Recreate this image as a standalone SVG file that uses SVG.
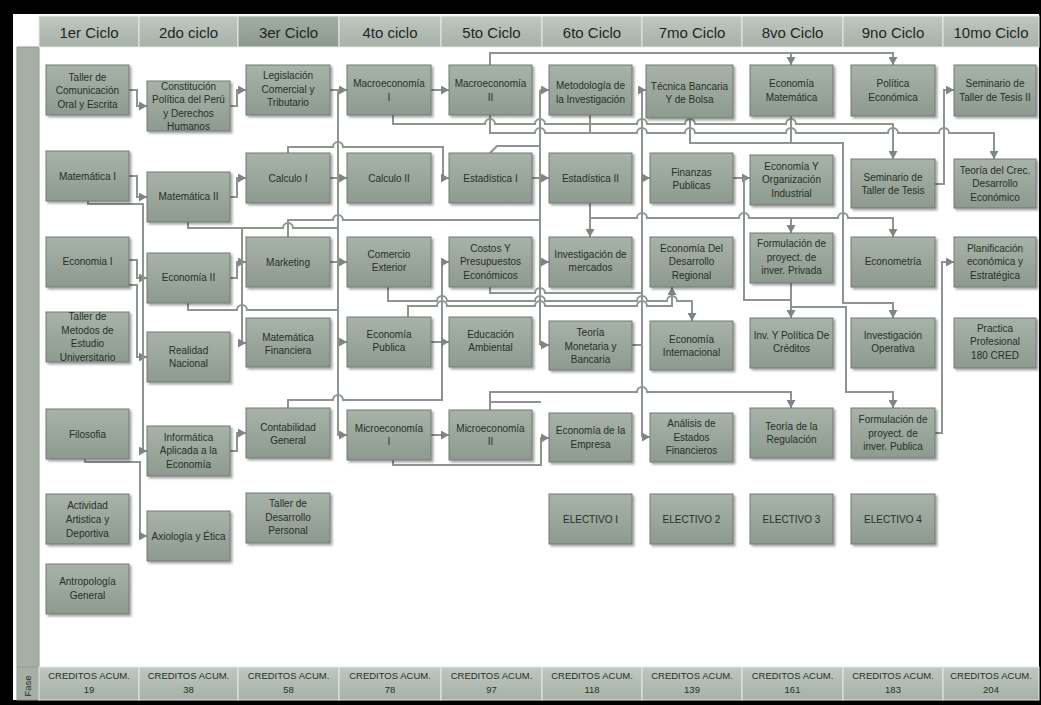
<svg xmlns="http://www.w3.org/2000/svg" width="1041" height="705" viewBox="0 0 1041 705">
<defs>
<linearGradient id="bg" x1="0" y1="0" x2="0" y2="1"><stop offset="0" stop-color="#a8b2a9"/><stop offset="1" stop-color="#8e9990"/></linearGradient>
<linearGradient id="hg" x1="0" y1="0" x2="0" y2="1"><stop offset="0" stop-color="#bfc7c0"/><stop offset="1" stop-color="#a7b1a8"/></linearGradient>
<linearGradient id="hd" x1="0" y1="0" x2="0" y2="1"><stop offset="0" stop-color="#a2ada4"/><stop offset="1" stop-color="#8c978e"/></linearGradient>
<filter id="sh" x="-10%" y="-10%" width="130%" height="130%"><feDropShadow dx="2" dy="2" stdDeviation="1" flood-color="#000" flood-opacity="0.35"/></filter>
<marker id="a" markerWidth="9" markerHeight="9" refX="8" refY="4.5" orient="auto" markerUnits="userSpaceOnUse"><path d="M0,0L8,4.5L0,9z" fill="#7d8680"/></marker>
<style>
.box{fill:url(#bg);stroke:#6f7a72;stroke-width:1;filter:url(#sh)}
.t{font-family:"Liberation Sans",Arial,sans-serif;font-size:10px;fill:#263028;text-anchor:middle}
.c path{fill:none;stroke:#8d958f;stroke-width:2}
.hc{fill:url(#hg);stroke:#e6eae6;stroke-width:1}
.hdk{fill:url(#hd);stroke:#e6eae6;stroke-width:1}
.ht{font-family:"Liberation Sans",Arial,sans-serif;font-size:15px;fill:#1f2621;text-anchor:middle}
.ft{font-family:"Liberation Sans",Arial,sans-serif;font-size:9.5px;fill:#263028;text-anchor:middle}
</style>
</defs>
<rect x="0" y="0" width="1041" height="705" fill="#ffffff"/>
<g id="frame">
<rect x="0" y="0" width="1041" height="14" fill="#000"/>
<rect x="0" y="0" width="13" height="705" fill="#000"/>
<rect x="0" y="700" width="1041" height="5" fill="#000"/>
<rect x="1039" y="0" width="2" height="705" fill="#000"/>
</g>
<g id="strip">
<rect x="17" y="47" width="22" height="653" fill="#a5afa6" stroke="#8f9991"/>
<line x1="17" y1="667" x2="39" y2="667" stroke="#8f9991"/>
<text class="ft" transform="translate(31,686) rotate(-90)">Fase</text>
</g>
<g id="header">
<rect class="hc" x="39" y="16" width="100" height="31"/><text class="ht" x="89" y="37.5">1er Ciclo</text>
<rect class="hc" x="139" y="16" width="99" height="31"/><text class="ht" x="188.5" y="37.5">2do ciclo</text>
<rect class="hdk" x="238" y="16" width="101" height="31"/><text class="ht" x="288.5" y="37.5">3er Ciclo</text>
<rect class="hc" x="339" y="16" width="102" height="31"/><text class="ht" x="390" y="37.5">4to ciclo</text>
<rect class="hc" x="441" y="16" width="101" height="31"/><text class="ht" x="491.5" y="37.5">5to Ciclo</text>
<rect class="hc" x="542" y="16" width="100" height="31"/><text class="ht" x="592" y="37.5">6to Ciclo</text>
<rect class="hc" x="642" y="16" width="100" height="31"/><text class="ht" x="692" y="37.5">7mo Ciclo</text>
<rect class="hc" x="742" y="16" width="101" height="31"/><text class="ht" x="792.5" y="37.5">8vo Ciclo</text>
<rect class="hc" x="843" y="16" width="100" height="31"/><text class="ht" x="893" y="37.5">9no Ciclo</text>
<rect class="hc" x="943" y="16" width="96" height="31"/><text class="ht" x="991" y="37.5">10mo Ciclo</text>
</g>
<g id="footer">
<rect class="hc" x="39" y="667" width="100" height="33"/><text class="ft" x="89" y="679">CREDITOS ACUM.</text><text class="ft" x="89" y="692.5">19</text>
<rect class="hc" x="139" y="667" width="99" height="33"/><text class="ft" x="188.5" y="679">CREDITOS ACUM.</text><text class="ft" x="188.5" y="692.5">38</text>
<rect class="hc" x="238" y="667" width="101" height="33"/><text class="ft" x="288.5" y="679">CREDITOS ACUM.</text><text class="ft" x="288.5" y="692.5">58</text>
<rect class="hc" x="339" y="667" width="102" height="33"/><text class="ft" x="390" y="679">CREDITOS ACUM.</text><text class="ft" x="390" y="692.5">78</text>
<rect class="hc" x="441" y="667" width="101" height="33"/><text class="ft" x="491.5" y="679">CREDITOS ACUM.</text><text class="ft" x="491.5" y="692.5">97</text>
<rect class="hc" x="542" y="667" width="100" height="33"/><text class="ft" x="592" y="679">CREDITOS ACUM.</text><text class="ft" x="592" y="692.5">118</text>
<rect class="hc" x="642" y="667" width="100" height="33"/><text class="ft" x="692" y="679">CREDITOS ACUM.</text><text class="ft" x="692" y="692.5">139</text>
<rect class="hc" x="742" y="667" width="101" height="33"/><text class="ft" x="792.5" y="679">CREDITOS ACUM.</text><text class="ft" x="792.5" y="692.5">161</text>
<rect class="hc" x="843" y="667" width="100" height="33"/><text class="ft" x="893" y="679">CREDITOS ACUM.</text><text class="ft" x="893" y="692.5">183</text>
<rect class="hc" x="943" y="667" width="96" height="33"/><text class="ft" x="991" y="679">CREDITOS ACUM.</text><text class="ft" x="991" y="692.5">204</text>
</g>
<g id="connectors" class="c">
<path d="M129,90H137V106H147" marker-end="url(#a)"/>
<path d="M230,106H237V90H246" marker-end="url(#a)"/>
<path d="M129,176H137V197H147" marker-end="url(#a)"/>
<path d="M230,197H237V178H246" marker-end="url(#a)"/>
<path d="M129,260H137V278H147" marker-end="url(#a)"/>
<path d="M230,278H237V262H246" marker-end="url(#a)"/>
<path d="M129,285H137V357H147" marker-end="url(#a)"/>
<path d="M88,201V204H143V451H147" marker-end="url(#a)"/>
<path d="M85,459V462H140V536H147" marker-end="url(#a)"/>
<path d="M230,451H237V433H246" marker-end="url(#a)"/>
<path d="M330,90H347" marker-end="url(#a)"/>
<path d="M338,90V435H347" marker-end="url(#a)"/>
<path d="M338,342H347" marker-end="url(#a)"/>
<path d="M188,222V228H283A5,5 0 0 1 293,228H338"/>
<path d="M242,228V343H246" marker-end="url(#a)"/>
<path d="M188,303V310H237A5,5 0 0 1 247,310H338"/>
<path d="M288,153V147H333A5,5 0 0 1 343,147H443V178H449" marker-end="url(#a)"/>
<path d="M330,178H347" marker-end="url(#a)"/>
<path d="M431,90H449" marker-end="url(#a)"/>
<path d="M330,262H347" marker-end="url(#a)"/>
<path d="M288,237V220H333A5,5 0 0 1 343,220H540"/>
<path d="M288,408V400H333A5,5 0 0 1 343,400H442V262H449" marker-end="url(#a)"/>
<path d="M431,342H449" marker-end="url(#a)"/>
<path d="M431,435H449" marker-end="url(#a)"/>
<path d="M393,460V465H541V438H549" marker-end="url(#a)"/>
<path d="M490,410V402H541"/>
<path d="M490,410V392H637A5,5 0 0 1 647,392H791V408" marker-end="url(#a)"/>
<path d="M393,115V124H485A5,5 0 0 1 495,124H535A5,5 0 0 1 545,124H637A5,5 0 0 1 647,124H685A5,5 0 0 1 695,124H786A5,5 0 0 1 796,124H893V159" marker-end="url(#a)"/>
<path d="M490,115V133H535A5,5 0 0 1 545,133H637A5,5 0 0 1 647,133H685A5,5 0 0 1 695,133H786A5,5 0 0 1 796,133H888A5,5 0 0 1 898,133H939A5,5 0 0 1 949,133H994V159" marker-end="url(#a)"/>
<path d="M590,115V133"/>
<path d="M490,65V53H893V65" marker-end="url(#a)"/>
<path d="M791,53V65" marker-end="url(#a)"/>
<path d="M490,153L497,146H540"/>
<path d="M540,90V345"/>
<path d="M540,90H549" marker-end="url(#a)"/>
<path d="M540,262H549" marker-end="url(#a)"/>
<path d="M540,345H549" marker-end="url(#a)"/>
<path d="M642,90V437"/>
<path d="M642,90H646" marker-end="url(#a)"/>
<path d="M642,178H650" marker-end="url(#a)"/>
<path d="M642,437H650" marker-end="url(#a)"/>
<path d="M490,287V293H535A5,5 0 0 1 545,293H642"/>
<path d="M388,287V301H437A5,5 0 0 1 447,301H535A5,5 0 0 1 545,301H637A5,5 0 0 1 647,301H667A5,5 0 0 1 677,301H692V321" marker-end="url(#a)"/>
<path d="M408,317V306H437A5,5 0 0 1 447,306H535A5,5 0 0 1 545,306H637A5,5 0 0 1 647,306H672V287" marker-end="url(#a)"/>
<path d="M632,345H642"/>
<path d="M590,203V237" marker-end="url(#a)"/>
<path d="M590,218H637A5,5 0 0 1 647,218H739A5,5 0 0 1 749,218H791V233" marker-end="url(#a)"/>
<path d="M791,218H838A5,5 0 0 1 848,218H893V237" marker-end="url(#a)"/>
<path d="M690,118V143H791"/>
<path d="M791,116V143H843V303H893V318" marker-end="url(#a)"/>
<path d="M733,178H750" marker-end="url(#a)"/>
<path d="M744,178V300H791"/>
<path d="M791,283V318" marker-end="url(#a)"/>
<path d="M791,307H846V392H893V408" marker-end="url(#a)"/>
<path d="M935,184H944V90H954" marker-end="url(#a)"/>
<path d="M935,433H942V262H954" marker-end="url(#a)"/>
<path d="M532,178H549" marker-end="url(#a)"/>
</g>
<g id="n_taller_com"><rect class="box" x="46" y="65" width="83" height="50"/><text class="t"><tspan x="87.5" y="80.5">Taller de</tspan><tspan x="87.5" y="94">Comunicación</tspan><tspan x="87.5" y="107.5">Oral y Escrita</tspan></text></g>
<g id="n_mat1"><rect class="box" x="46" y="151" width="83" height="50"/><text class="t" x="87.5" y="179.7">Matemática I</text></g>
<g id="n_eco1"><rect class="box" x="46" y="237" width="83" height="50"/><text class="t" x="87.5" y="265">Economia I</text></g>
<g id="n_metodos"><rect class="box" x="46" y="312" width="83" height="50"/><text class="t"><tspan x="87.5" y="319.7">Taller de</tspan><tspan x="87.5" y="333.5">Metodos de</tspan><tspan x="87.5" y="347">Estudio</tspan><tspan x="87.5" y="360.7">Universitario</tspan></text></g>
<g id="n_filosofia"><rect class="box" x="46" y="409" width="83" height="50"/><text class="t" x="87.5" y="437.5">Filosofia</text></g>
<g id="n_actividad"><rect class="box" x="46" y="494" width="83" height="50"/><text class="t"><tspan x="87.5" y="509.4">Actividad</tspan><tspan x="87.5" y="522.7">Artistica y</tspan><tspan x="87.5" y="536.5">Deportiva</tspan></text></g>
<g id="n_antropologia"><rect class="box" x="46" y="564" width="83" height="50"/><text class="t"><tspan x="87.5" y="585">Antropología</tspan><tspan x="87.5" y="598.5">General</tspan></text></g>
<g id="n_constitucion"><rect class="box" x="147" y="81" width="83" height="50"/><text class="t"><tspan x="188.5" y="89.5">Constitución</tspan><tspan x="188.5" y="103">Política del Perú</tspan><tspan x="188.5" y="116.5">y Derechos</tspan><tspan x="188.5" y="130">Humanos</tspan></text></g>
<g id="n_mat2"><rect class="box" x="147" y="172" width="83" height="50"/><text class="t" x="188.5" y="200">Matemática II</text></g>
<g id="n_eco2"><rect class="box" x="147" y="253" width="83" height="50"/><text class="t" x="188.5" y="281">Economía II</text></g>
<g id="n_realidad"><rect class="box" x="147" y="332" width="83" height="50"/><text class="t"><tspan x="188.5" y="353.7">Realidad</tspan><tspan x="188.5" y="367">Nacional</tspan></text></g>
<g id="n_informatica"><rect class="box" x="147" y="426" width="83" height="50"/><text class="t"><tspan x="188.5" y="440.7">Informática</tspan><tspan x="188.5" y="454">Aplicada a la</tspan><tspan x="188.5" y="467.5">Economía</tspan></text></g>
<g id="n_axiologia"><rect class="box" x="147" y="511" width="83" height="50"/><text class="t" x="188.5" y="539.7">Axiología y Ética</text></g>
<g id="n_legislacion"><rect class="box" x="246" y="65" width="84" height="50"/><text class="t"><tspan x="288" y="78.7">Legislación</tspan><tspan x="288" y="92.5">Comercial y</tspan><tspan x="288" y="106.3">Tributario</tspan></text></g>
<g id="n_calc1"><rect class="box" x="246" y="153" width="84" height="50"/><text class="t" x="288" y="181.7">Calculo I</text></g>
<g id="n_marketing"><rect class="box" x="246" y="237" width="84" height="50"/><text class="t" x="288" y="265.7">Marketing</text></g>
<g id="n_matfin"><rect class="box" x="246" y="318" width="84" height="49"/><text class="t"><tspan x="288" y="340.7">Matemática</tspan><tspan x="288" y="354">Financiera</tspan></text></g>
<g id="n_contabilidad"><rect class="box" x="246" y="408" width="84" height="50"/><text class="t"><tspan x="288" y="430.7">Contabilidad</tspan><tspan x="288" y="444">General</tspan></text></g>
<g id="n_tallerdes"><rect class="box" x="246" y="493" width="84" height="50"/><text class="t"><tspan x="288" y="506.7">Taller de</tspan><tspan x="288" y="520.5">Desarrollo</tspan><tspan x="288" y="534.3">Personal</tspan></text></g>
<g id="n_macro1"><rect class="box" x="347" y="65" width="84" height="50"/><text class="t"><tspan x="389" y="86.5">Macroeconomía</tspan><tspan x="389" y="101">I</tspan></text></g>
<g id="n_calc2"><rect class="box" x="347" y="153" width="84" height="50"/><text class="t" x="389" y="181.7">Calculo II</text></g>
<g id="n_comercio"><rect class="box" x="347" y="237" width="84" height="50"/><text class="t"><tspan x="389" y="257.7">Comercio</tspan><tspan x="389" y="271">Exterior</tspan></text></g>
<g id="n_ecopub"><rect class="box" x="347" y="317" width="84" height="50"/><text class="t"><tspan x="389" y="337.5">Economía</tspan><tspan x="389" y="351">Publica</tspan></text></g>
<g id="n_micro1"><rect class="box" x="347" y="410" width="84" height="50"/><text class="t"><tspan x="389" y="431.5">Microeconomía</tspan><tspan x="389" y="444.5">I</tspan></text></g>
<g id="n_macro2"><rect class="box" x="449" y="65" width="83" height="50"/><text class="t"><tspan x="490.5" y="86.5">Macroeconomía</tspan><tspan x="490.5" y="101">II</tspan></text></g>
<g id="n_est1"><rect class="box" x="449" y="153" width="83" height="50"/><text class="t" x="490.5" y="181.7">Estadística I</text></g>
<g id="n_costos"><rect class="box" x="449" y="237" width="83" height="50"/><text class="t"><tspan x="490.5" y="251.7">Costos Y</tspan><tspan x="490.5" y="265.3">Presupuestos</tspan><tspan x="490.5" y="278.7">Económicos</tspan></text></g>
<g id="n_educacion"><rect class="box" x="449" y="317" width="83" height="50"/><text class="t"><tspan x="490.5" y="337.5">Educación</tspan><tspan x="490.5" y="351">Ambiental</tspan></text></g>
<g id="n_micro2"><rect class="box" x="449" y="410" width="83" height="50"/><text class="t"><tspan x="490.5" y="431.5">Microeconomía</tspan><tspan x="490.5" y="444.5">II</tspan></text></g>
<g id="n_metodologia"><rect class="box" x="549" y="65" width="83" height="50"/><text class="t"><tspan x="590.5" y="88.7">Metodología de</tspan><tspan x="590.5" y="102.5">la Investigación</tspan></text></g>
<g id="n_est2"><rect class="box" x="549" y="153" width="83" height="50"/><text class="t" x="590.5" y="181.7">Estadística II</text></g>
<g id="n_invmerc"><rect class="box" x="549" y="237" width="83" height="50"/><text class="t"><tspan x="590.5" y="257.7">Investigación de</tspan><tspan x="590.5" y="271.3">mercados</tspan></text></g>
<g id="n_teomon"><rect class="box" x="549" y="321" width="83" height="49"/><text class="t"><tspan x="590.5" y="335.7">Teoría</tspan><tspan x="590.5" y="349.5">Monetaria y</tspan><tspan x="590.5" y="363">Bancaria</tspan></text></g>
<g id="n_ecoempresa"><rect class="box" x="549" y="413" width="83" height="49"/><text class="t"><tspan x="590.5" y="433.7">Economía de la</tspan><tspan x="590.5" y="447.5">Empresa</tspan></text></g>
<g id="n_elec1"><rect class="box" x="549" y="494" width="83" height="50"/><text class="t" x="590.5" y="522.5">ELECTIVO I</text></g>
<g id="n_tecnica"><rect class="box" x="646" y="65" width="87" height="53"/><text class="t"><tspan x="689.5" y="89.7">Técnica Bancaria</tspan><tspan x="689.5" y="103">Y de Bolsa</tspan></text></g>
<g id="n_finanzas"><rect class="box" x="650" y="153" width="83" height="50"/><text class="t"><tspan x="691.5" y="175.7">Finanzas</tspan><tspan x="691.5" y="189">Publicas</tspan></text></g>
<g id="n_ecodes"><rect class="box" x="650" y="237" width="83" height="50"/><text class="t"><tspan x="691.5" y="251.7">Economía Del</tspan><tspan x="691.5" y="265.3">Desarrollo</tspan><tspan x="691.5" y="278.7">Regional</tspan></text></g>
<g id="n_ecoint"><rect class="box" x="650" y="321" width="83" height="49"/><text class="t"><tspan x="691.5" y="342.7">Economía</tspan><tspan x="691.5" y="356">Internacional</tspan></text></g>
<g id="n_analisis"><rect class="box" x="650" y="413" width="83" height="49"/><text class="t"><tspan x="691.5" y="426.7">Análisis de</tspan><tspan x="691.5" y="440.5">Estados</tspan><tspan x="691.5" y="454.3">Financieros</tspan></text></g>
<g id="n_elec2"><rect class="box" x="650" y="494" width="83" height="50"/><text class="t" x="691.5" y="522.5">ELECTIVO 2</text></g>
<g id="n_ecomat"><rect class="box" x="750" y="65" width="83" height="51"/><text class="t"><tspan x="791.5" y="86.7">Economía</tspan><tspan x="791.5" y="100.7">Matemática</tspan></text></g>
<g id="n_ecoorg"><rect class="box" x="750" y="155" width="83" height="50"/><text class="t"><tspan x="791.5" y="169.7">Economía Y</tspan><tspan x="791.5" y="183.3">Organización</tspan><tspan x="791.5" y="196.8">Industrial</tspan></text></g>
<g id="n_formpriv"><rect class="box" x="750" y="233" width="83" height="50"/><text class="t"><tspan x="791.5" y="246.7">Formulación de</tspan><tspan x="791.5" y="260.5">proyect. de</tspan><tspan x="791.5" y="274.3">inver. Privada</tspan></text></g>
<g id="n_invpol"><rect class="box" x="750" y="318" width="83" height="50"/><text class="t"><tspan x="791.5" y="338.7">Inv. Y Política De</tspan><tspan x="791.5" y="352">Créditos</tspan></text></g>
<g id="n_teoreg"><rect class="box" x="750" y="408" width="83" height="50"/><text class="t"><tspan x="791.5" y="429.7">Teoría de la</tspan><tspan x="791.5" y="443">Regulación</tspan></text></g>
<g id="n_elec3"><rect class="box" x="750" y="494" width="83" height="50"/><text class="t" x="791.5" y="522.5">ELECTIVO 3</text></g>
<g id="n_poleco"><rect class="box" x="851" y="65" width="84" height="51"/><text class="t"><tspan x="893" y="86.7">Política</tspan><tspan x="893" y="100.7">Económica</tspan></text></g>
<g id="n_semtesis"><rect class="box" x="851" y="159" width="84" height="49"/><text class="t"><tspan x="893" y="180.7">Seminario de</tspan><tspan x="893" y="194">Taller de Tesis</tspan></text></g>
<g id="n_econometria"><rect class="box" x="851" y="237" width="84" height="50"/><text class="t" x="893" y="264.7">Econometría</text></g>
<g id="n_invop"><rect class="box" x="851" y="318" width="84" height="50"/><text class="t"><tspan x="893" y="338.7">Investigación</tspan><tspan x="893" y="352">Operativa</tspan></text></g>
<g id="n_formpub"><rect class="box" x="851" y="408" width="84" height="50"/><text class="t"><tspan x="893" y="422.7">Formulación de</tspan><tspan x="893" y="436.5">proyect. de</tspan><tspan x="893" y="450.3">inver. Publica</tspan></text></g>
<g id="n_elec4"><rect class="box" x="851" y="494" width="84" height="50"/><text class="t" x="893" y="522.5">ELECTIVO 4</text></g>
<g id="n_sem2"><rect class="box" x="954" y="65" width="82" height="51"/><text class="t"><tspan x="995" y="86.7">Seminario de</tspan><tspan x="995" y="100.7">Taller de Tesis II</tspan></text></g>
<g id="n_teocrec"><rect class="box" x="954" y="159" width="82" height="49"/><text class="t"><tspan x="995" y="173.7">Teoría del Crec.</tspan><tspan x="995" y="187.2">Desarrollo</tspan><tspan x="995" y="200.7">Económico</tspan></text></g>
<g id="n_planif"><rect class="box" x="954" y="237" width="82" height="50"/><text class="t"><tspan x="995" y="251.7">Planificación</tspan><tspan x="995" y="265.3">económica y</tspan><tspan x="995" y="278.7">Estratégica</tspan></text></g>
<g id="n_practica"><rect class="box" x="954" y="318" width="82" height="50"/><text class="t"><tspan x="995" y="331.7">Practica</tspan><tspan x="995" y="345.3">Profesional</tspan><tspan x="995" y="358.7">180 CRED</tspan></text></g>
</svg>
